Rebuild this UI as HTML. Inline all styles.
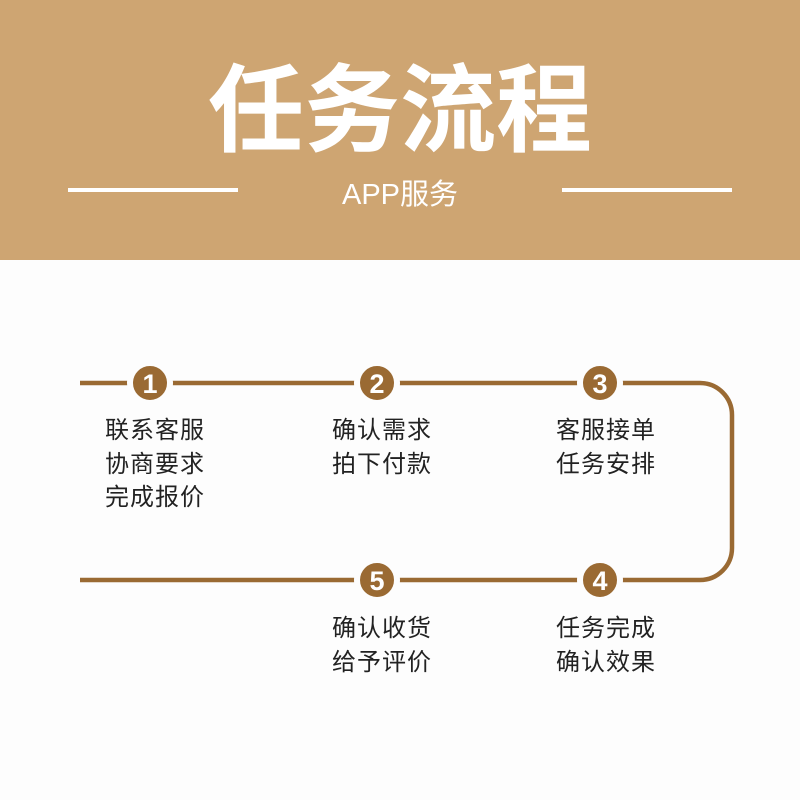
<!DOCTYPE html>
<html><head><meta charset="utf-8"><style>
body{margin:0;width:800px;height:800px;background:#fdfdfd;position:relative;overflow:hidden;font-family:"Liberation Sans","Noto Sans CJK SC",sans-serif}
.hd{position:absolute;left:0;top:0;width:800px;height:260px;background:#cea572}
.t{position:absolute;left:0;width:800px;top:54px;text-align:center;color:#fff;font-size:96px;font-weight:bold;line-height:116px}
.s{position:absolute;left:0;width:800px;top:177px;text-align:center;color:#fff;font-size:29px;line-height:36px}
.ln{position:absolute;top:188px;height:4px;width:170px;background:#fff}
.c{position:absolute;color:#222;font-size:24px;line-height:33.5px;letter-spacing:1px}
</style></head><body>
<div class="hd"></div>
<div class="t">任务流程</div>
<div class="s">APP服务</div>
<div class="ln" style="left:68px"></div>
<div class="ln" style="left:562px"></div>
<svg width="800" height="800" style="position:absolute;left:0;top:0">
<path d="M80 383 H700 A32 32 0 0 1 732 415 V548 A32 32 0 0 1 700 580 H80" fill="none" stroke="#9a6a33" stroke-width="4.5"/>
<g fill="#9a6a33" stroke="#fdfdfd" stroke-width="6">
<circle cx="150" cy="383" r="20"/><circle cx="377" cy="383" r="20"/><circle cx="600" cy="383" r="20"/>
<circle cx="600" cy="580" r="20"/><circle cx="377" cy="580" r="20"/></g>
<g fill="#fff" font-family="Liberation Sans" font-weight="bold" font-size="27" text-anchor="middle">
<text x="150" y="393">1</text><text x="377" y="393">2</text><text x="600" y="393">3</text>
<text x="600" y="590">4</text><text x="377" y="590">5</text></g>
</svg>
<div class="c" style="left:105px;top:414px">联系客服<br>协商要求<br>完成报价</div>
<div class="c" style="left:332px;top:414px">确认需求<br>拍下付款</div>
<div class="c" style="left:556px;top:414px">客服接单<br>任务安排</div>
<div class="c" style="left:332px;top:612px">确认收货<br>给予评价</div>
<div class="c" style="left:556px;top:612px">任务完成<br>确认效果</div>
</body></html>
